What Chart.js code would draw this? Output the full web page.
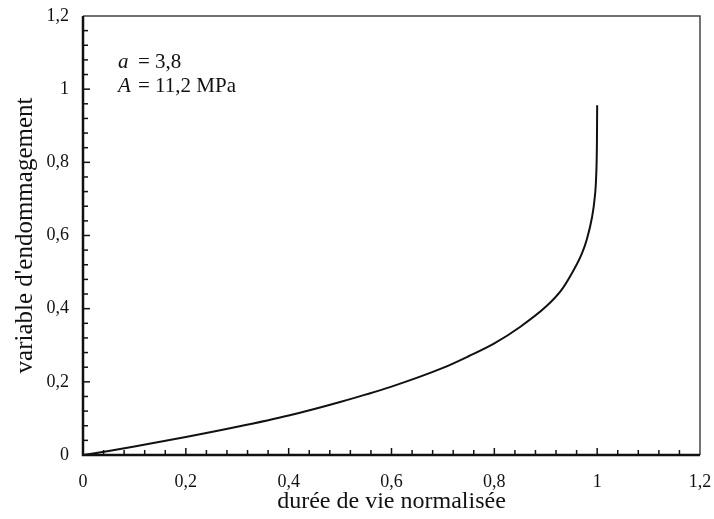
<!DOCTYPE html>
<html>
<head>
<meta charset="utf-8">
<script src="https://cdn.jsdelivr.net/npm/chart.js@4/dist/chart.umd.min.js"></script>
<style>
  html, body { margin: 0; padding: 0; background: #fff; }
  #wrap { width: 714px; height: 519px; }
</style>
</head>
<body>
<div id="wrap"><canvas id="damageChart" width="714" height="519"></canvas></div>
<script>
// durée de vie normalisée
const lifeFraction = [0, 0.05, 0.1, 0.2, 0.3, 0.4, 0.5, 0.6, 0.7, 0.75, 0.8, 0.85, 0.9, 0.93, 0.95, 0.97, 0.98, 0.99, 0.995, 0.998, 0.9995, 1.0];
// variable d'endommagement
const damage = [0, 0.011, 0.023, 0.049, 0.077, 0.108, 0.145, 0.187, 0.238, 0.27, 0.305, 0.35, 0.405, 0.45, 0.495, 0.55, 0.59, 0.65, 0.70, 0.76, 0.85, 0.956];

const axisMin = 0;
const axisMax = 1.2;
const majorStep = 0.2;
const minorStep = 0.04;

const serif = "'Liberation Serif', 'Times New Roman', serif";

const fmt = (v) => {
  const r = Math.round(v * 10) / 10;
  return String(r).replace(".", ",");
};

// cadre + petites graduations vers l'intérieur + texte des paramètres
const framePlugin = {
  id: "frame",
  afterDraw(chart) {
    const { ctx, chartArea: a, scales } = chart;
    const xs = scales.x, ys = scales.y;
    ctx.save();

    ctx.strokeStyle = "#444";
    ctx.lineWidth = 1.5;
    ctx.beginPath();
    ctx.moveTo(a.left, a.top);
    ctx.lineTo(a.right, a.top);
    ctx.lineTo(a.right, a.bottom);
    ctx.stroke();

    ctx.strokeStyle = "#111";
    ctx.lineWidth = 2.5;
    ctx.beginPath();
    ctx.moveTo(a.left, a.top);
    ctx.lineTo(a.left, a.bottom);
    ctx.lineTo(a.right, a.bottom);
    ctx.stroke();

    ctx.lineWidth = 1.5;
    const n = Math.round((axisMax - axisMin) / minorStep);
    for (let i = 1; i < n; i++) {
      const v = axisMin + i * minorStep;
      const isMajor = i % 5 === 0;
      const len = isMajor ? 7 : 5;
      const px = xs.getPixelForValue(v);
      ctx.beginPath();
      ctx.moveTo(px, a.bottom);
      ctx.lineTo(px, a.bottom - len);
      ctx.stroke();
      const py = ys.getPixelForValue(v);
      ctx.beginPath();
      ctx.moveTo(a.left, py);
      ctx.lineTo(a.left + len, py);
      ctx.stroke();
    }

    ctx.fillStyle = "#111";
    ctx.textBaseline = "alphabetic";
    const tx = a.left + 35;
    ctx.font = "italic 21px " + serif;
    ctx.fillText("a", tx, 68);
    ctx.fillText("A", tx, 92);
    ctx.font = "21px " + serif;
    ctx.fillText("= 3,8", tx + 20, 68);
    ctx.fillText("= 11,2 MPa", tx + 20, 92);
    ctx.restore();
  },
};

const points = lifeFraction.map((x, i) => ({ x: x, y: damage[i] }));

new Chart(document.getElementById("damageChart"), {
  type: "scatter",
  data: {
    datasets: [
      {
        data: points,
        showLine: true,
        borderColor: "#111",
        borderWidth: 2,
        pointRadius: 0,
        cubicInterpolationMode: "monotone",
        fill: false,
      },
    ],
  },
  options: {
    responsive: false,
    animation: false,
    layout: { padding: { left: 0, top: 16, right: 14, bottom: 0 } },
    plugins: { legend: { display: false }, tooltip: { enabled: false } },
    scales: {
      x: {
        type: "linear",
        min: axisMin,
        max: axisMax,
        grid: { display: false },
        border: { display: false },
        ticks: {
          stepSize: majorStep,
          padding: 8,
          color: "#111",
          font: { family: serif, size: 18 },
          callback: (v) => fmt(v),
          maxRotation: 0,
        },
        title: {
          display: true,
          text: "durée de vie normalisée",
          color: "#111",
          font: { family: serif, size: 24 },
          padding: { top: 0, bottom: 3 },
        },
        afterFit: (s) => {
          s.height = 64;
          s.paddingLeft = 0;
          s.paddingRight = 0;
        },
      },
      y: {
        type: "linear",
        min: axisMin,
        max: axisMax,
        grid: { display: false },
        border: { display: false },
        ticks: {
          stepSize: majorStep,
          padding: 6,
          color: "#111",
          font: { family: serif, size: 18 },
          callback: (v) => fmt(v),
        },
        title: {
          display: true,
          text: "variable d'endommagement",
          color: "#111",
          font: { family: serif, size: 25 },
          padding: { top: 10, bottom: 0 },
        },
        afterFit: (s) => {
          s.width = 83;
          s.paddingTop = 0;
          s.paddingBottom = 0;
        },
      },
    },
  },
  plugins: [framePlugin],
});
</script>
</body>
</html>
